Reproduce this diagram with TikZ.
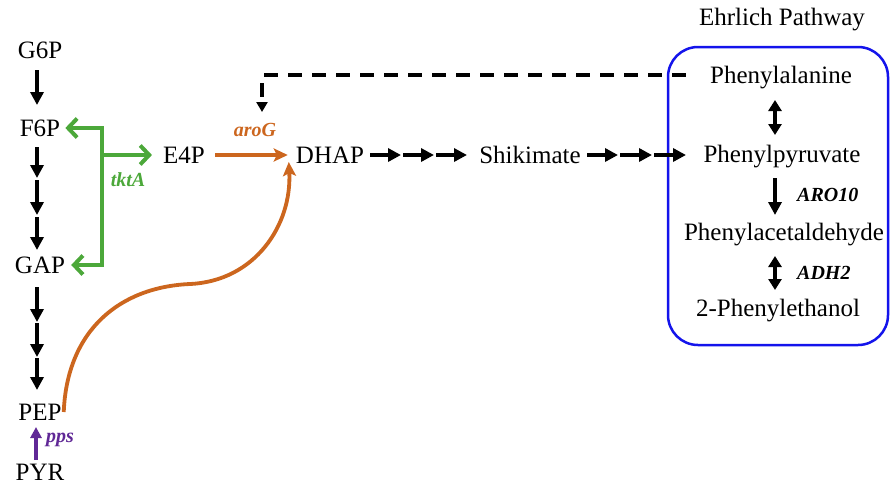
\documentclass[tikz,border=0pt]{standalone}
\usepackage{fontspec}
\setmainfont{Liberation Serif}
\usetikzlibrary{arrows.meta,calc}
\definecolor{tkgreen}{RGB}{76,168,58}
\definecolor{arorange}{RGB}{204,102,30}
\definecolor{ppspurple}{RGB}{96,40,150}
\definecolor{boxblue}{RGB}{20,20,235}
\begin{document}
\begin{tikzpicture}[x=1pt,y=-1pt,
  met/.style={font=\fontsize{25}{29}\selectfont, inner sep=0pt, anchor=center},
  enz/.style={font=\fontsize{20}{24}\selectfont\bfseries\itshape, inner sep=0pt},
  blk/.style={line width=3.3pt, -{Triangle[length=13pt,width=13pt]}},
  dbl/.style={line width=3.3pt, {Triangle[length=11pt,width=13pt]}-{Triangle[length=11pt,width=13pt]}},
  grn/.style={tkgreen, line width=4pt, -{Straight Barb[length=9pt,width=19pt]}},
  org/.style={arorange, line width=3.8pt, -{Stealth[length=14pt,width=13pt,inset=3pt]}},
  dsh/.style={line width=3.3pt, dash pattern=on 14pt off 10pt, -{Triangle[length=10pt,width=11pt]}},
  ehrbox/.style={boxblue, line width=2.5pt, rounded corners=30pt}]
\useasboundingbox (0,0) rectangle (890,490);

% metabolites
\node[met] (G6P) at (40,50) {G6P};
\node[met] (F6P) at (40,128) {F6P};
\node[met] (GAP) at (40,265) {GAP};
\node[met] (PEP) at (40,412) {PEP};
\node[met] (PYR) at (40,472) {PYR};
\node[met] (E4P) at (184,155) {E4P};
\node[met] (DHAP) at (330,155) {DHAP};
\node[met] (SHK) at (530,155) {Shikimate};
\node[met] (EHR) at (782,20) {Ehrlich Pathway};
\node[met] (PHE) at (781,78) {Phenylalanine};
\node[met] (PPY) at (782,157) {Phenylpyruvate};
\node[met] (PAA) at (784,235) {Phenylacetaldehyde};
\node[met] (PET) at (778,311) {2-Phenylethanol};

% enzymes
\node[enz, tkgreen] (tktA) at (128,180) {tktA};
\node[enz, arorange] (aroG) at (255,130) {aroG};
\node[enz, ppspurple, anchor=west] (pps) at (46,440) {pps};
\node[enz, anchor=west] (ARO10) at (797,195) {ARO10};
\node[enz, anchor=west] (ADH2) at (797,273) {ADH2};

% Ehrlich box
\draw[ehrbox] (668,47) rectangle (888,345);

% glycolysis column
\draw[blk] ($(G6P)+(-3,20)$) -- ($(F6P)+(-3,-23)$);
\coordinate (c1) at ($(F6P)+(-3,19)$);
\coordinate (c2) at ($(F6P)+(-3,50)$);
\coordinate (c3) at ($(F6P)+(-3,87)$);
\coordinate (c4) at ($(GAP)+(-3,-15)$);
\draw[blk] (c1) -- (c2);
\draw[blk] ($(c2)+(0,2)$) -- (c3);
\draw[blk] ($(c3)+(0,2)$) -- (c4);
\coordinate (d1) at ($(GAP)+(-3,22)$);
\coordinate (d2) at ($(GAP)+(-3,57)$);
\coordinate (d3) at ($(GAP)+(-3,92)$);
\coordinate (d4) at ($(PEP)+(-3,-22)$);
\draw[blk] (d1) -- (d2);
\draw[blk] ($(d2)+(0,1)$) -- (d3);
\draw[blk] ($(d3)+(0,1)$) -- (d4);
\draw[ppspurple, line width=3.3pt, -{Triangle[length=11pt,width=11pt]}] ($(PYR)+(-4,-12)$) -- ($(PEP)+(-4,15)$);

% tktA
\coordinate (tk) at (102,155);
\draw[grn] (tk) |- ($(F6P.east)+(5,0)$);
\draw[grn] (tk) |- ($(GAP.east)+(6,0)$);
\draw[grn] (tk) -- ($(E4P.west)+(-11,0)$);

% aroG
\coordinate (dh) at ($(DHAP.west)+(-7,4)$);
\draw[org] ($(E4P.east)+(10,0)$) -- ($(DHAP.west)+(-8,0)$);
\draw[org] ($(PEP.east)+(2,0)$) .. controls (67,330) and (120,287) .. (190,284)
   .. controls (255,281) and (292,225) .. ($(dh)+(0,3)$);

% shikimate chains
\coordinate (s1) at (370,155);
\coordinate (s2) at (401,155);
\coordinate (s3) at (434,155);
\coordinate (s4) at (467,155);
\draw[blk] (s1) -- (s2);
\draw[blk] ($(s2)+(2,0)$) -- (s3);
\draw[blk] ($(s3)+(2,0)$) -- (s4);
\coordinate (t1) at (587,155);
\coordinate (t2) at (618,155);
\coordinate (t3) at (652,155);
\coordinate (t4) at (686,155);
\draw[blk] (t1) -- (t2);
\draw[blk] ($(t2)+(2,0)$) -- (t3);
\draw[blk] ($(t3)+(2,0)$) -- (t4);

% feedback
\coordinate (fb) at (262,75);
\draw[dsh] ($(PHE.west)+(-24,-3)$) -- (fb) -- ($(fb)+(0,37)$);

% Ehrlich arrows
\draw[dbl] (775,100) -- (775,135);
\draw[blk] (775,178) -- (775,215);
\draw[dbl] (775,256) -- (775,290);
\end{tikzpicture}
\end{document}
